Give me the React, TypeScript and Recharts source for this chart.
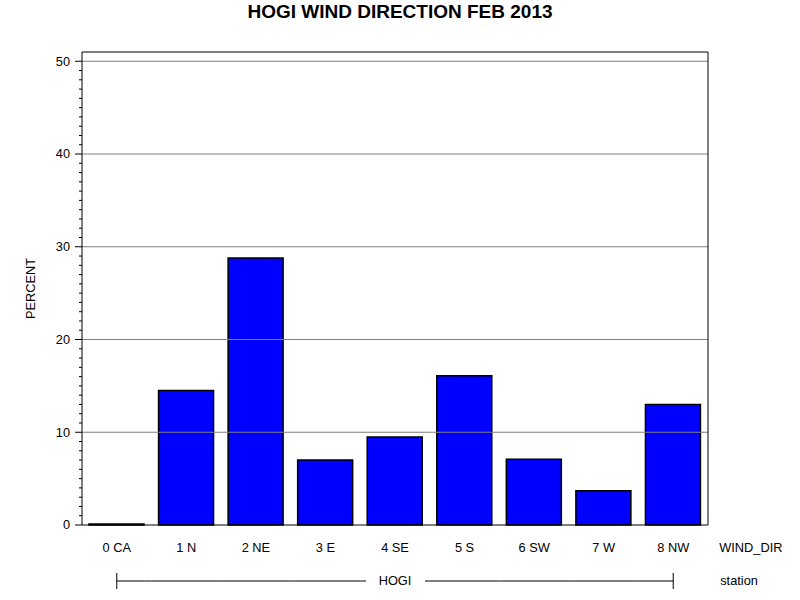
import React from "react";
import { BarChart, Bar, XAxis, YAxis, ReferenceLine } from "recharts";

const categories = ["0 CA", "1 N", "2 NE", "3 E", "4 SE", "5 S", "6 SW", "7 W", "8 NW"];
const percent = [0.1, 14.5, 28.8, 7.0, 9.5, 16.1, 7.1, 3.7, 13.0];
const yMajorTicks = [0, 10, 20, 30, 40, 50];
const yMinorTicks = Array.from({ length: 51 }, (_, i) => i);
const gridTicks = [10, 20, 30, 40, 50];
const groupLabel = "HOGI";
const xAxisName = "WIND_DIR";
const groupName = "station";

const data = categories.map((c, i) => ({ name: c, value: percent[i] }));

const FONT = "'Liberation Sans', Arial, sans-serif";
const FS = 12.8;
const PLOT_W = 626;
const STEP = PLOT_W / categories.length;

const YTick = (props: any) => {
    const { x, y, payload } = props;
    const major = yMajorTicks.includes(payload.value);
    return (
        <g>
            <line x1={x - (major ? 7 : 3)} x2={x} y1={y} y2={y} stroke="#000" />
            {major && (
                <text x={x - 12} y={y} dy="0.35em" textAnchor="end" fontSize={FS} fontFamily={FONT} fill="#000">
                    {payload.value}
                </text>
            )}
        </g>
    );
};

const XTick = (props: any) => {
    const { x, y, payload, index } = props;
    const half = STEP / 2;
    const ly = y + 56;
    const last = categories.length - 1;
    const mid = Math.floor(categories.length / 2);
    const txt = { fontSize: FS, fontFamily: FONT, fill: "#000" };
    let lines: React.ReactNode[] = [];
    if (index === 0) {
        lines.push(<line key="a" x1={x} x2={x + half} y1={ly} y2={ly} stroke="#000" />);
        lines.push(<line key="b" x1={x} x2={x} y1={ly - 8} y2={ly + 8} stroke="#000" />);
    } else if (index === last) {
        lines.push(<line key="a" x1={x - half} x2={x} y1={ly} y2={ly} stroke="#000" />);
        lines.push(<line key="b" x1={x} x2={x} y1={ly - 8} y2={ly + 8} stroke="#000" />);
    } else if (index === mid) {
        lines.push(<line key="a" x1={x - half} x2={x - 29} y1={ly} y2={ly} stroke="#000" />);
        lines.push(<line key="b" x1={x + 30} x2={x + half} y1={ly} y2={ly} stroke="#000" />);
    } else {
        lines.push(<line key="a" x1={x - half} x2={x + half} y1={ly} y2={ly} stroke="#000" />);
    }
    return (
        <g>
            <text x={x} y={y + 23} dy="0.35em" textAnchor="middle" {...txt}>
                {payload.value}
            </text>
            {lines}
            {index === mid && (
                <text x={x} y={ly} dy="0.35em" textAnchor="middle" {...txt}>
                    {groupLabel}
                </text>
            )}
            {index === last && (
                <>
                    <text x={x + 46} y={y + 23} dy="0.35em" textAnchor="start" {...txt}>
                        {xAxisName}
                    </text>
                    <text x={x + 47} y={ly} dy="0.35em" textAnchor="start" {...txt}>
                        {groupName}
                    </text>
                </>
            )}
        </g>
    );
};

const App = () => {
    return (
        <div style={{ position: "absolute", left: 0, top: 0, width: 800, height: 600, background: "#fff" }}>
            <div
                style={{
                    position: "absolute",
                    top: 0,
                    left: 0,
                    width: 800,
                    textAlign: "center",
                    fontFamily: FONT,
                    fontWeight: "bold",
                    fontSize: 19,
                    lineHeight: "23px",
                }}
            >
                HOGI WIND DIRECTION FEB 2013
            </div>
            <BarChart width={800} height={600} data={data} margin={{ top: 51, right: 91, bottom: 0, left: 0 }}>
                {gridTicks.map((t) => (
                    <ReferenceLine key={t} y={t} stroke="#808080" />
                ))}
                <XAxis
                    dataKey="name"
                    height={75}
                    tickLine={false}
                    tickSize={0}
                    tickMargin={0}
                    interval={0}
                    axisLine={{ stroke: "#000" }}
                    tick={<XTick />}
                />
                <XAxis xAxisId="top" dataKey="name" orientation="top" height={1} tick={false} tickLine={false} axisLine={{ stroke: "#000" }} />
                <YAxis
                    width={82}
                    domain={[0, 51]}
                    ticks={yMinorTicks}
                    interval={0}
                    tickLine={false}
                    tickSize={0}
                    tickMargin={0}
                    axisLine={{ stroke: "#000" }}
                    tick={<YTick />}
                    label={{
                        value: "PERCENT",
                        angle: -90,
                        position: "insideLeft",
                        offset: 30,
                        style: { textAnchor: "middle", fontSize: FS, fontFamily: FONT, fill: "#000" },
                    }}
                />
                <YAxis yAxisId="right" orientation="right" width={1} domain={[0, 51]} tick={false} tickLine={false} axisLine={{ stroke: "#000" }} />
                <Bar dataKey="value" fill="#0000ff" stroke="#000" strokeWidth={1.5} barSize={55} isAnimationActive={false} />
            </BarChart>
        </div>
    );
};

export default App;
